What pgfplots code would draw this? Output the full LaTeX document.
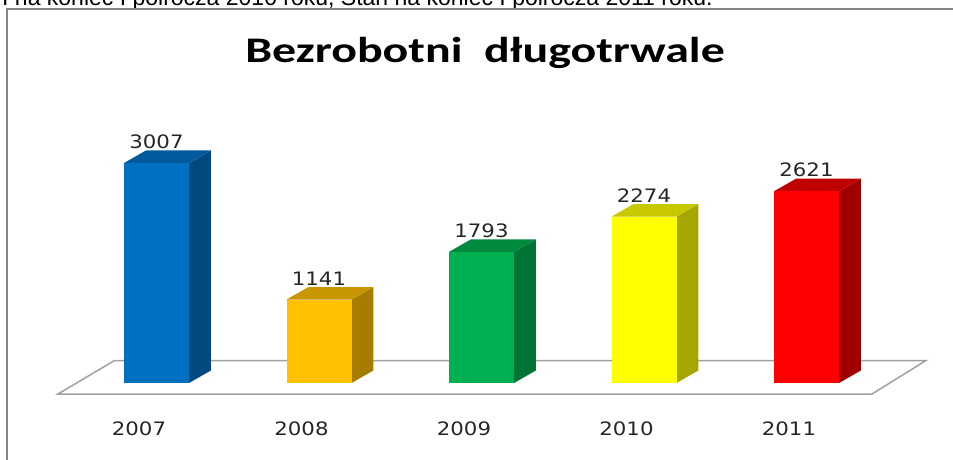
\documentclass[border=0pt]{standalone}
\usepackage{fontspec}
\usepackage{pgfplots}
\pgfplotsset{compat=1.18}
\setmainfont{Liberation Sans}
\newfontfamily\verd[FakeStretch=1.15]{DejaVu Sans}
\newfontfamily\titlefont[FakeStretch=1.33]{Carlito}
\definecolor{framegray}{HTML}{868686}
\definecolor{floorgray}{HTML}{A0A0A0}
\definecolor{bluef}{HTML}{0070C0}\definecolor{blues}{HTML}{004A80}\definecolor{bluet}{HTML}{005A9C}
\definecolor{orf}{HTML}{FFC000}\definecolor{ors}{HTML}{A67D00}\definecolor{ort}{HTML}{C89600}
\definecolor{grf}{HTML}{00B050}\definecolor{grs}{HTML}{007335}\definecolor{grt}{HTML}{00893F}
\definecolor{yef}{HTML}{FFFF00}\definecolor{yes}{HTML}{A6A600}\definecolor{yet}{HTML}{C8C800}
\definecolor{ref}{HTML}{FF0000}\definecolor{res}{HTML}{A00000}\definecolor{ret}{HTML}{C00000}
\begin{document}
\begin{tikzpicture}[x=1pt,y=1pt]
\useasboundingbox (0,0) rectangle (953,459);
% text line above the chart (cut at the top, as in the reference)
\node[anchor=base west, inner sep=0pt, font=\fontsize{23}{26}\selectfont] at (2,453.3)
  {I na koniec I półrocza 2010 roku, Stan na koniec I półrocza 2011 roku.};
% chart frame
\draw[framegray, line width=2pt] (6.5,-10) -- (6.5,449.5) -- (965,449.5);
% title
\node[anchor=base, inner sep=0pt, font=\titlefont\bfseries\fontsize{36}{40}\selectfont] at (485,396.3)
  {Bezrobotni\ \ długotrwale};
\begin{axis}[at={(0,0)}, anchor=south west, scale only axis,
  width=953pt, height=459pt,
  xmin=-0.963077, xmax=4.901538, ymin=-1038.8, ymax=5234.9,
  axis line style={draw=none}, major tick length=0pt,
  ytick=\empty, xtick={0,1,2,3,4},
  xticklabels={2007,2008,2009,2010,2011},
  xticklabel style={anchor=base, yshift=24pt, xshift=-17.5pt,
    font=\verd\fontsize{18.5}{20}\selectfont, text=black!85},
  clip=false,
  /pgf/number format/1000 sep={},
  /pgf/number format/assume math mode=true,
  nodes near coords style={anchor=base, yshift=14.5pt,
    font=\verd\fontsize{18.5}{20}\selectfont, text=black!85},
]
% floor
\addplot[draw=floorgray, line width=1.5pt, fill=white]
  coordinates {(-0.6062,-150.35) (4.4031,-150.35) (4.7354,307.5) (-0.2585,307.5)} -- cycle;
% side and top faces
\addplot[fill=blues, draw=none] coordinates {(0.2,0) (0.335,171) (0.335,3178) (0.2,3007)} -- cycle;
\addplot[fill=bluet, draw=none] coordinates {(-0.2,3007) (0.2,3007) (0.335,3178) (-0.065,3178)} -- cycle;
\addplot[fill=ors, draw=none] coordinates {(1.2,0) (1.335,171) (1.335,1312) (1.2,1141)} -- cycle;
\addplot[fill=ort, draw=none] coordinates {(0.8,1141) (1.2,1141) (1.335,1312) (0.935,1312)} -- cycle;
\addplot[fill=grs, draw=none] coordinates {(2.2,0) (2.335,171) (2.335,1964) (2.2,1793)} -- cycle;
\addplot[fill=grt, draw=none] coordinates {(1.8,1793) (2.2,1793) (2.335,1964) (1.935,1964)} -- cycle;
\addplot[fill=yes, draw=none] coordinates {(3.2,0) (3.335,171) (3.335,2445) (3.2,2274)} -- cycle;
\addplot[fill=yet, draw=none] coordinates {(2.8,2274) (3.2,2274) (3.335,2445) (2.935,2445)} -- cycle;
\addplot[fill=res, draw=none] coordinates {(4.2,0) (4.335,171) (4.335,2792) (4.2,2621)} -- cycle;
\addplot[fill=ret, draw=none] coordinates {(3.8,2621) (4.2,2621) (4.335,2792) (3.935,2792)} -- cycle;
% front faces
\addplot[ybar, bar width=0.4, bar shift=0pt, fill=bluef, draw=none, nodes near coords] coordinates {(0,3007)};
\addplot[ybar, bar width=0.4, bar shift=0pt, fill=orf, draw=none, nodes near coords] coordinates {(1,1141)};
\addplot[ybar, bar width=0.4, bar shift=0pt, fill=grf, draw=none, nodes near coords] coordinates {(2,1793)};
\addplot[ybar, bar width=0.4, bar shift=0pt, fill=yef, draw=none, nodes near coords] coordinates {(3,2274)};
\addplot[ybar, bar width=0.4, bar shift=0pt, fill=ref, draw=none, nodes near coords] coordinates {(4,2621)};
\end{axis}
\end{tikzpicture}
\end{document}
